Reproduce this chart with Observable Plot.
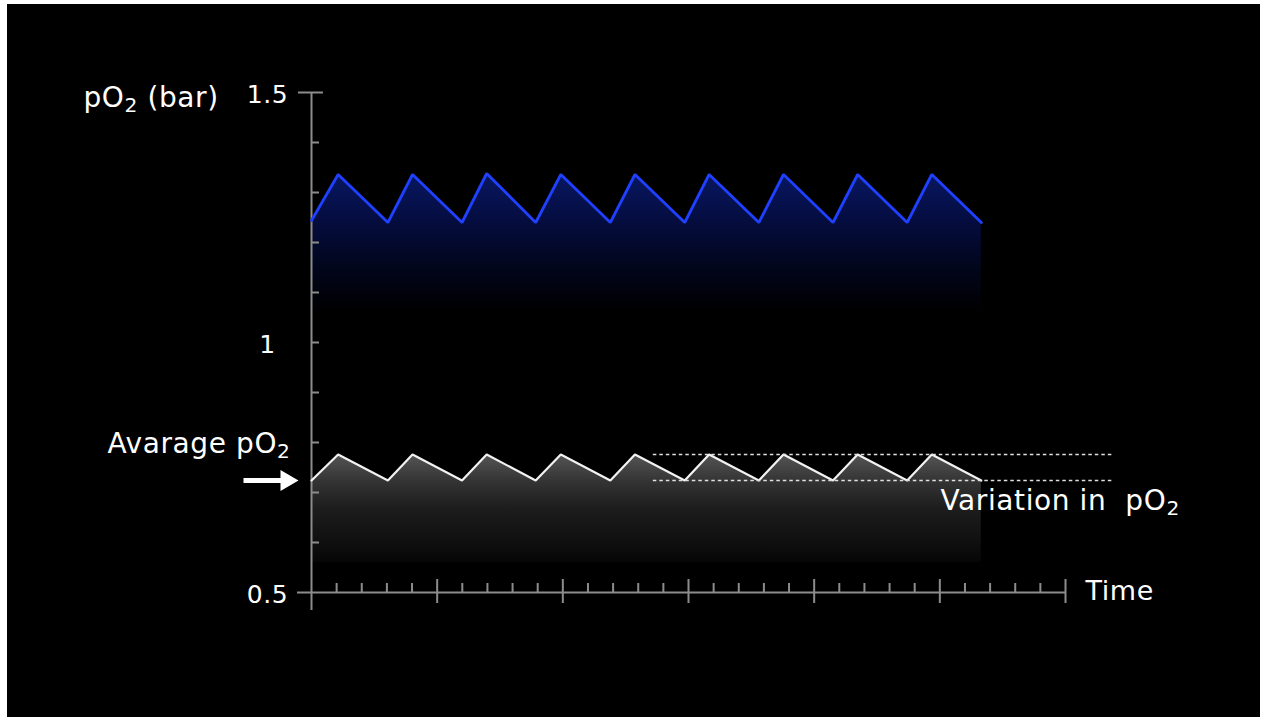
<!DOCTYPE html>
<html><head><meta charset="utf-8">
<script src="https://cdn.jsdelivr.net/npm/d3@7"></script>
<script src="https://cdn.jsdelivr.net/npm/@observablehq/plot@0.6"></script>
<style>
html,body{margin:0;padding:0;background:#fff;}
#frame{position:absolute;left:7px;top:4px;width:1253px;height:713px;background:#000;overflow:hidden;}
</style></head><body><div id="frame"></div>
<script>
// Time (in minor x-tick units) of each vertex of the sawtooth
const time = [0, 1.06, 3.04, 4.02, 5.99, 6.97, 8.92, 9.92, 11.89, 12.87, 14.85, 15.82, 17.8, 18.78, 20.75, 21.73, 23.7, 24.68, 26.65];
// High pO2 series (blue)
const highPO2 = [1.244, 1.336, 1.24, 1.336, 1.24, 1.338, 1.24, 1.336, 1.24, 1.336, 1.24, 1.336, 1.24, 1.336, 1.24, 1.336, 1.24, 1.336, 1.24];
// Average pO2 series (white)
const avgPO2 = [0.724, 0.776, 0.724, 0.776, 0.724, 0.776, 0.724, 0.776, 0.724, 0.776, 0.724, 0.776, 0.724, 0.776, 0.724, 0.776, 0.724, 0.776, 0.724];
// Axis ticks
const yMajorTicks = [1.5];
const yMinorTicks = [0.6, 0.7, 0.8, 0.9, 1.0, 1.1, 1.2, 1.3, 1.4];
const yTickLabels = [{value: 1.5, label: "1.5"}, {value: 1, label: "1"}, {value: 0.5, label: "0.5"}];
const xMajorTicks = [5, 10, 15, 20, 25, 30];
const xMinorTicks = [1, 2, 3, 4, 6, 7, 8, 9, 11, 12, 13, 14, 16, 17, 18, 19, 21, 22, 23, 24, 26, 27, 28, 29];
// Span of the dashed "variation" guides (time units)
const variationSpan = [13.6, 31.9];
// Annotation texts
const yTitle = "pO\u2082 (bar)";
const avgLabel = "Avarage pO\u2082";
const variationLabel = "Variation in\u00a0 pO\u2082";
const xTitle = "Time";

const blueData = time.map((t, i) => ({t, v: highPO2[i]}));
const whiteData = time.map((t, i) => ({t, v: avgPO2[i]}));

const W = 1253, H = 713;
const mL = 304, mR = 195, mT = 88, mB = 125;
const frameW = W - mL - mR, frameH = H - mT - mB;
const axisColor = "#8c8c8c";
const font = "DejaVu Sans";

const defs = () => {
  const d = d3.create("svg:defs");
  const b = d.append("linearGradient").attr("id", "blueFade").attr("x1", 0).attr("y1", 0).attr("x2", 0).attr("y2", 1);
  [[0, "#081762"], [0.3, "#050e44"], [0.65, "#02061e"], [1, "#000000"]].forEach(([o, c]) => b.append("stop").attr("offset", o).attr("stop-color", c));
  const w = d.append("linearGradient").attr("id", "greyFade").attr("x1", 0).attr("y1", 0).attr("x2", 0).attr("y2", 1);
  [[0, "#555555"], [0.25, "#343434"], [0.5, "#1d1d1d"], [0.8, "#101010"], [1, "#060606"]].forEach(([o, c]) => w.append("stop").attr("offset", o).attr("stop-color", c));
  return d.node();
};

const arrowShape = {
  draw(ctx, l) {
    const h = 18, w = 10.5, s = 2.5;
    ctx.moveTo(-s, 0);
    ctx.lineTo(-s, -(l - h));
    ctx.lineTo(-w, -(l - h));
    ctx.lineTo(0, -l);
    ctx.lineTo(w, -(l - h));
    ctx.lineTo(s, -(l - h));
    ctx.lineTo(s, 0);
    ctx.closePath();
  }
};

const txt = {fill: "white", fontSize: 28, fontFamily: font, stroke: "none", lineAnchor: "middle"};

const plot = Plot.plot({
  width: W, height: H,
  marginLeft: mL, marginRight: mR, marginTop: mT, marginBottom: mB,
  x: {domain: [0, 30], axis: null},
  y: {domain: [0.5, 1.5], axis: null},
  style: {background: "black", fontFamily: font, color: "white", overflow: "visible", letterSpacing: "0.6px"},
  marks: [
    defs,
    Plot.areaY(blueData, {x: "t", y1: 1.06, y2: "v", fill: "url(#blueFade)"}),
    Plot.areaY(whiteData, {x: "t", y1: 0.56, y2: "v", fill: "url(#greyFade)"}),
    // axes
    Plot.ruleX([0], {stroke: axisColor, strokeWidth: 2, insetBottom: -18}),
    Plot.ruleY([0.5], {stroke: axisColor, strokeWidth: 2, insetLeft: -14, insetRight: -1}),
    Plot.tickY(yMinorTicks, {y: d => d, stroke: axisColor, strokeWidth: 2, insetRight: frameW - 8}),
    Plot.tickY(yMajorTicks, {y: d => d, stroke: axisColor, strokeWidth: 2, insetLeft: -13, insetRight: frameW - 12}),
    Plot.tickX(xMinorTicks, {x: d => d, stroke: axisColor, strokeWidth: 2, insetTop: frameH - 9}),
    Plot.tickX(xMajorTicks, {x: d => d, stroke: axisColor, strokeWidth: 2, insetTop: frameH - 13, insetBottom: -11}),
    // series lines
    Plot.line(blueData, {x: "t", y: "v", stroke: "#1f40ff", strokeWidth: 2.8, strokeLinejoin: "miter"}),
    Plot.line(whiteData, {x: "t", y: "v", stroke: "#f2f2f2", strokeWidth: 2.2, strokeLinejoin: "miter"}),
    // variation guides
    Plot.ruleY([d3.max(avgPO2), d3.min(avgPO2)], {x1: variationSpan[0], x2: variationSpan[1], stroke: "#e0e0e0", strokeWidth: 1.3, strokeDasharray: "3.5,3"}),
    // labels
    Plot.text(yTickLabels, {...txt, fontSize: 25, y: "value", text: "label", frameAnchor: "left", dx: -44, dy: 2, textAnchor: "middle"}),
    Plot.text([yTitle], {...txt, text: d => d, frameAnchor: "top-left", dx: -228, dy: 6, textAnchor: "start"}),
    Plot.text([avgLabel], {...txt, text: d => d, frameAnchor: "top-left", dx: -21, dy: 352, textAnchor: "end"}),
    Plot.text([variationLabel], {...txt, text: d => d, frameAnchor: "top-left", dx: 629, dy: 409, textAnchor: "start"}),
    Plot.text([xTitle], {...txt, fontSize: 27, text: d => d, frameAnchor: "top-left", dx: 774, dy: 499, textAnchor: "start"}),
    // arrow
    Plot.vector([avgPO2[0]], {x: 0, y: d => d, rotate: 90, length: 55, anchor: "end", dx: -13, shape: arrowShape, fill: "white", stroke: "none"})
  ]
});

// Render the subscript "2" as a real lowered, smaller digit
const NS = "http://www.w3.org/2000/svg";
plot.querySelectorAll("text").forEach(t => {
  if (t.children.length === 0 && t.textContent.includes("\u2082")) {
    const [before, after] = t.textContent.split("\u2082");
    t.textContent = "";
    t.appendChild(document.createTextNode(before));
    const sub = document.createElementNS(NS, "tspan");
    sub.setAttribute("font-size", "0.72em");
    sub.setAttribute("dy", "0.22em");
    sub.textContent = "2";
    t.appendChild(sub);
    if (after) {
      const rest = document.createElementNS(NS, "tspan");
      rest.setAttribute("dy", "-0.158em");
      rest.textContent = after;
      t.appendChild(rest);
    }
  }
});
document.getElementById("frame").appendChild(plot);
</script>
</body></html>
